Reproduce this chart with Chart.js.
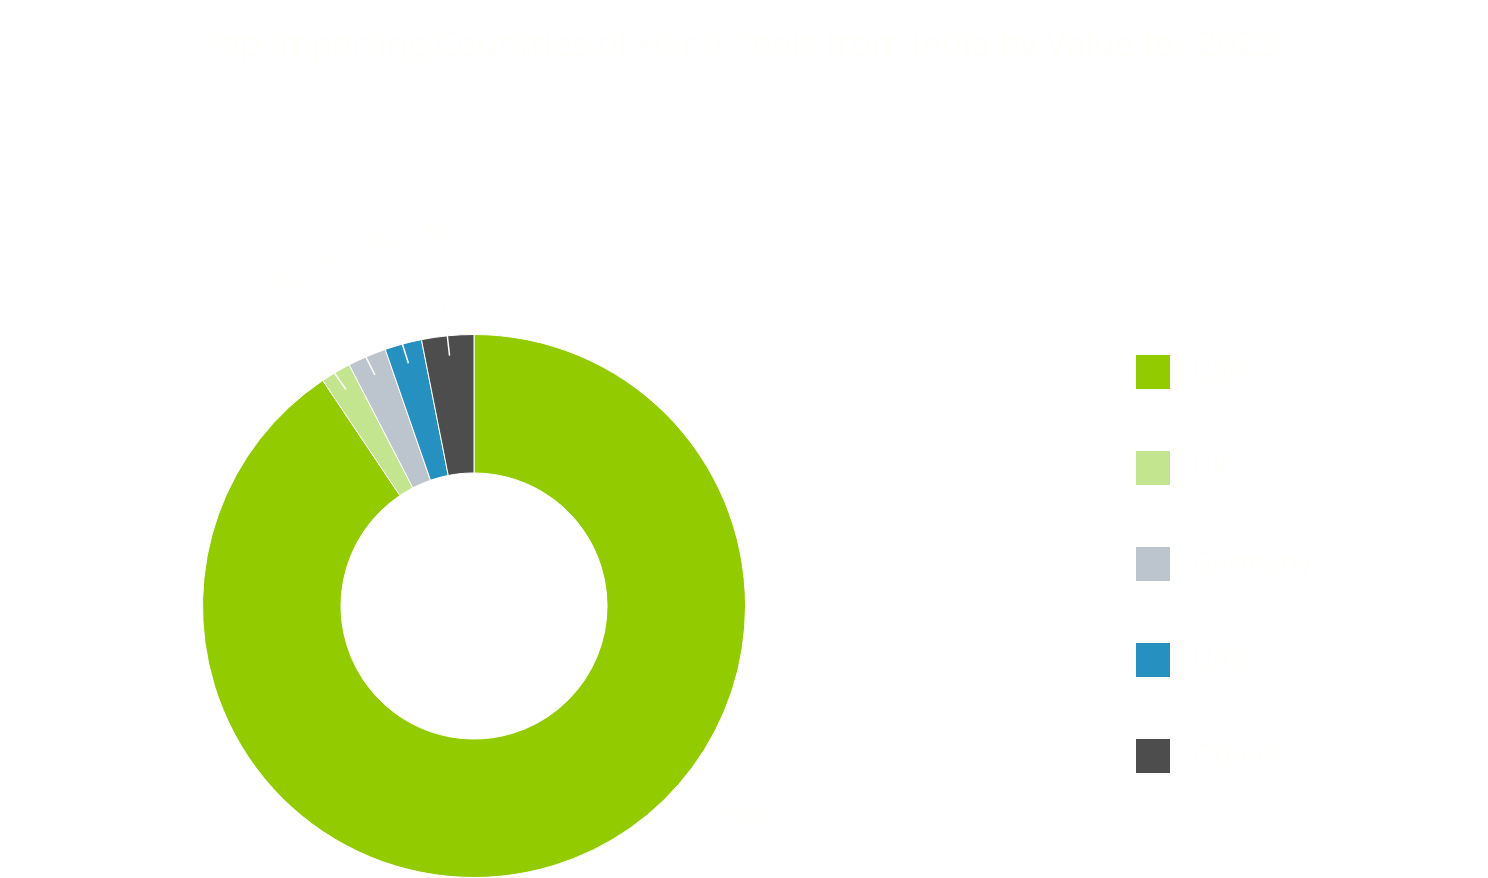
<!DOCTYPE html>
<html>
<head>
<meta charset="utf-8">
<title>Import share by country</title>
<script src="https://cdn.jsdelivr.net/npm/chart.js@4.4.1/dist/chart.umd.min.js"></script>
<style>
    html, body { margin: 0; padding: 0; background: #ffffff; }
    #wrap { width: 1488px; height: 878px; }
</style>
</head>
<body>
<div id="wrap"><canvas id="myPieChartCanvas" width="1488" height="878"></canvas></div>
<script>
var countries = ['USA', 'UK', 'Germany', 'UAE', 'Others'];
// slice sizes as measured off the ring, the printed labels are rounded
var shares = [90.6, 1.8, 2.3, 2.2, 3.1];
var share_labels = ['91%', '2%', '2%', '2%', '3%'];
var slice_colors = ['#92cb00', '#c4e58f', '#bcc4cd', '#2690c0', '#4d4d4d'];
var chart_title = 'Top Importing Countries of Hand Tools from India by Value for 2022';

// the texts are near-white on white, as in the original
var text_color = '#fefefa';

// title across the whole canvas (the chart's own title gets squeezed by the padding)
var wide_title = {
    id: 'wideTitle',
    afterDraw: function(chart) {
        let ctx = chart.ctx;
        ctx.save();
        ctx.font = '34px "Open Sans"';
        ctx.fillStyle = text_color;
        ctx.textAlign = 'center';
        ctx.textBaseline = 'middle';
        ctx.fillText(chart_title, chart.width / 2 - 6, 46);
        ctx.restore();
    }
};

// percentage labels with leader lines, placed outside the ring
var pct_labels = {
    id: 'pctLabels',
    afterDatasetsDraw: function(chart) {
        let ctx = chart.ctx;
        let meta = chart.getDatasetMeta(0);
        let total = shares.reduce(function(a, b) { return a + b; }, 0);
        ctx.save();
        ctx.font = '24px "Open Sans"';
        ctx.fillStyle = text_color;
        ctx.strokeStyle = text_color;
        ctx.lineWidth = 1.5;
        ctx.textAlign = 'center';
        ctx.textBaseline = 'middle';
        meta.data.forEach(function(arc, i) {
            let p = arc.getProps(['x', 'y', 'startAngle', 'endAngle', 'outerRadius'], true);
            let mid = (p.startAngle + p.endAngle) / 2;
            if (shares[i] / total > 0.5) {
                // big slice: label off to the lower right, no leader
                let a = Math.PI * 0.21;
                let r = p.outerRadius * 1.28;
                ctx.fillText(share_labels[i], p.x + Math.cos(a) * r, p.y + Math.sin(a) * r);
                return;
            }
            let r = p.outerRadius * 1.38;
            let lx = p.x + Math.cos(mid) * r;
            let ly = p.y + Math.sin(mid) * r;
            let r0 = p.outerRadius - 20;
            ctx.beginPath();
            ctx.moveTo(p.x + Math.cos(mid) * r0, p.y + Math.sin(mid) * r0);
            ctx.lineTo(lx, ly + 16);
            ctx.stroke();
            ctx.fillText(share_labels[i], lx, ly);
        });
        ctx.restore();
    }
};

// legend far to the right of the ring
var side_legend = {
    id: 'sideLegend',
    afterDraw: function(chart) {
        let area = chart.chartArea;
        let ctx = chart.ctx;
        let x = area.right + 390;
        let y = area.top + 21;
        ctx.save();
        ctx.font = '28px "Open Sans"';
        ctx.textAlign = 'left';
        ctx.textBaseline = 'middle';
        for (let i = 0; i < countries.length; i++) {
            ctx.fillStyle = slice_colors[i];
            ctx.fillRect(x, y + i * 96, 34, 34);
            ctx.fillStyle = text_color;
            ctx.fillText(countries[i], x + 56, y + i * 96 + 17);
        }
        ctx.restore();
    }
};

var pie_chart = new Chart(document.getElementById('myPieChartCanvas'), {
    type: 'doughnut',
    data: {
        labels: countries,
        datasets: [{
            data: shares,
            backgroundColor: slice_colors,
            borderColor: '#ffffff',
            borderWidth: 1,
            hoverOffset: 0
        }]
    },
    options: {
        responsive: false,
        animation: false,
        cutout: '49%',
        layout: {
            padding: { left: 202, right: 742, top: 334, bottom: 0 }
        },
        plugins: {
            legend: { display: false },
            tooltip: { enabled: false },
            title: { display: false }
        }
    },
    plugins: [wide_title, pct_labels, side_legend]
});
</script>
</body>
</html>
